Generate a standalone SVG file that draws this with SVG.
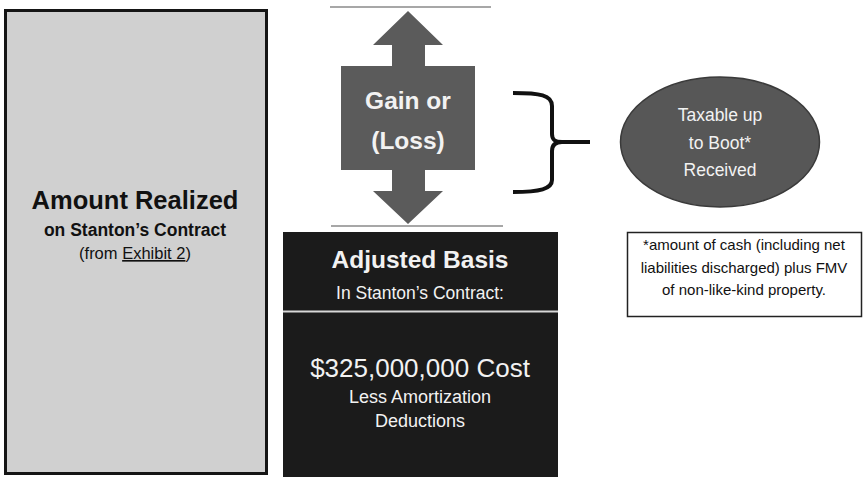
<svg xmlns="http://www.w3.org/2000/svg" width="863" height="477" viewBox="0 0 863 477">
<style>
text{font-family:"Liberation Sans",Arial,sans-serif;text-anchor:middle}
.b{font-weight:bold}
.w{fill:#f2f2f2}
.k{fill:#111}
.rule{stroke:#8a8a8a;stroke-width:1.6}
</style>
<rect width="863" height="477" fill="#ffffff"/>
<g id="amount-realized">
<rect x="5.5" y="10.5" width="261" height="463" fill="#d0d0d0" stroke="#151515" stroke-width="3"/>
<text class="b k" x="135" y="209" font-size="25.5">Amount Realized</text>
<text class="b k" x="135" y="236" font-size="17.5">on Stanton’s Contract</text>
<text class="k" x="135" y="259" font-size="16.5">(from <tspan text-decoration="underline">Exhibit 2</tspan>)</text>
</g>
<g id="gain-loss">
<line class="rule" x1="330" y1="7" x2="491" y2="7"/>
<line class="rule" x1="331" y1="226" x2="503" y2="226"/>
<path d="M408,11 L443,45 L425,45 L425,66 L475,66 L475,170 L425,170 L425,191 L443,191 L408,224 L373,191 L392,191 L392,170 L341,170 L341,66 L392,66 L392,45 L373,45 Z" fill="#5b5b5b"/>
<text class="b w" x="408" y="109" font-size="24.5">Gain or</text>
<text class="b w" x="408" y="149" font-size="24.5">(Loss)</text>
</g>
<g id="adjusted-basis">
<rect x="283" y="232" width="275" height="245" fill="#1b1b1b"/>
<line x1="283" y1="311.5" x2="558" y2="311.5" stroke="#d8d8d8" stroke-width="2"/>
<text class="b w" x="420" y="268" font-size="24.5">Adjusted Basis</text>
<text class="w" x="420" y="299" font-size="17.5">In Stanton’s Contract:</text>
<text class="w" x="420" y="377" font-size="26">$325,000,000 Cost</text>
<text class="w" x="420" y="403" font-size="18">Less Amortization</text>
<text class="w" x="420" y="427" font-size="18">Deductions</text>
</g>
<g id="taxable">
<ellipse cx="720" cy="142" rx="99.5" ry="65" fill="#575757" stroke="#3a3a3a" stroke-width="1.5"/>
<text class="w" x="720" y="121" font-size="17.5">Taxable up</text>
<text class="w" x="720" y="149" font-size="17.5">to Boot*</text>
<text class="w" x="720" y="176" font-size="17.5">Received</text>
</g>
<g id="boot-note">
<rect x="627.5" y="232.5" width="234" height="84" fill="#ffffff" stroke="#222" stroke-width="1.5"/>
<text class="k" x="744" y="250" font-size="15">*amount of cash (including net</text>
<text class="k" x="744" y="273" font-size="15">liabilities discharged) plus FMV</text>
<text class="k" x="744" y="295" font-size="15">of non-like-kind property.</text>
</g>
<g id="connectors">
<path d="M513,93 C540,93 552,95 552,106 L552,134 C552,140 555,142 562,142 L590,142 M562,142 C555,142 552,145 552,151 L552,180 C552,189 540,192 513,192" fill="none" stroke="#111" stroke-width="4"/>
</g>
</svg>
